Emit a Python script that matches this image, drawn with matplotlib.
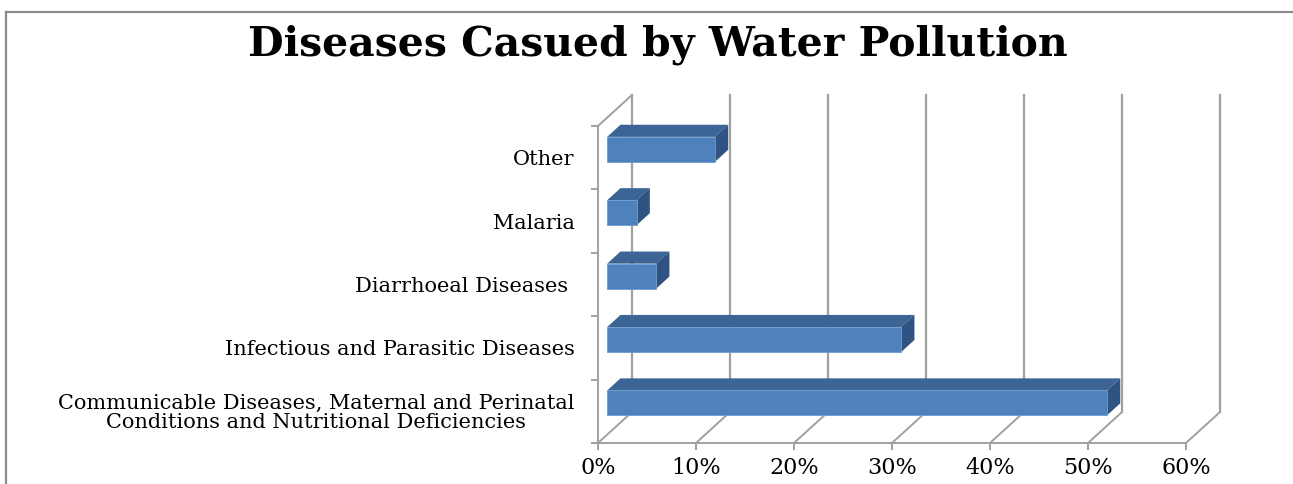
import matplotlib
matplotlib.use("Agg")
import matplotlib.pyplot as plt
from matplotlib.patches import Polygon
from matplotlib.lines import Line2D
from matplotlib.ticker import FuncFormatter

categories = [
    "Communicable Diseases, Maternal and Perinatal\nConditions and Nutritional Deficiencies",
    "Infectious and Parasitic Diseases",
    "Diarrhoeal Diseases ",
    "Malaria",
    "Other",
]
values = [51, 30, 5, 3, 11]  # percent
title = "Diseases Casued by Water Pollution"

W, H = 1293, 484
fig = plt.figure(figsize=(W / 100, H / 100), dpi=100)

# front plane of the 3d box
ax_left, ax_bottom, ax_w, ax_h = 598, 41, 588, 317
ax = fig.add_axes([ax_left / W, ax_bottom / H, ax_w / W, ax_h / H])
xmax = 60
ax.set_xlim(0, xmax)
ax.set_ylim(-0.5, len(categories) - 0.5)

# depth offset (back wall vs front plane) in data units
DX = 34 * xmax / ax_w
DY = 31 * len(categories) / ax_h
d1, d2 = 0.27, 0.66   # bar depth range
bh = 0.394            # bar thickness

grid_c = "#a0a0a0"
front_c, top_c, side_c = "#4f81bd", "#3c6494", "#2f5382"
ylo, yhi = -0.5, len(categories) - 0.5

# back wall gridlines + floor diagonals
for x in range(0, xmax + 1, 10):
    ax.add_line(Line2D([x + DX, x + DX], [ylo + DY, yhi + DY], color=grid_c, lw=1.6, clip_on=False, zorder=1))
    ax.add_line(Line2D([x, x + DX], [ylo, ylo + DY], color=grid_c, lw=1.4, clip_on=False, zorder=1))
# left wall top edge
ax.add_line(Line2D([0, DX], [yhi, yhi + DY], color=grid_c, lw=1.4, clip_on=False, zorder=1))

for i, v in enumerate(values):
    b0, b1 = i - bh / 2, i + bh / 2
    front = [(d1 * DX, b0 + d1 * DY), (v + d1 * DX, b0 + d1 * DY),
             (v + d1 * DX, b1 + d1 * DY), (d1 * DX, b1 + d1 * DY)]
    top = [(d1 * DX, b1 + d1 * DY), (v + d1 * DX, b1 + d1 * DY),
           (v + d2 * DX, b1 + d2 * DY), (d2 * DX, b1 + d2 * DY)]
    side = [(v + d1 * DX, b0 + d1 * DY), (v + d1 * DX, b1 + d1 * DY),
            (v + d2 * DX, b1 + d2 * DY), (v + d2 * DX, b0 + d2 * DY)]
    ax.add_patch(Polygon(top, closed=True, fc=top_c, ec="none", clip_on=False, zorder=3))
    ax.add_patch(Polygon(side, closed=True, fc=side_c, ec="none", clip_on=False, zorder=3))
    ax.add_patch(Polygon(front, closed=True, fc=front_c, ec="#6f9bd0", lw=0.6, clip_on=False, zorder=4))

for s in ("top", "right"):
    ax.spines[s].set_visible(False)
for s in ("left", "bottom"):
    ax.spines[s].set_color(grid_c)
    ax.spines[s].set_linewidth(1.4)

lab_font = dict(family="DejaVu Serif", size=15)
ax.set_xticks(range(0, xmax + 1, 10))
ax.xaxis.set_major_formatter(FuncFormatter(lambda x, p: f"{int(x)}%"))
ax.tick_params(axis="x", length=5, width=1.4, color=grid_c, pad=5, labelsize=16)
for t in ax.get_xticklabels():
    t.set_family("DejaVu Serif")

ax.set_yticks(range(len(categories)))
ax.set_yticklabels(categories, **lab_font, multialignment="center", linespacing=1.0)
ax.set_yticks([k - 0.5 for k in range(len(categories) + 1)], minor=True)
ax.tick_params(axis="y", which="major", length=0, pad=17)
ax.tick_params(axis="y", which="minor", length=5, width=1.4, color=grid_c)

fig.text(658 / W, 1 - 45 / H, title, ha="center", va="center",
         family="DejaVu Serif", weight="bold", size=29.5)

# chart border (left and top edges visible)
fig.add_artist(Line2D([6 / W, 6 / W], [0, 1 - 12 / H], color="#8c8c8c", lw=1.6))
fig.add_artist(Line2D([6 / W, 1], [1 - 12 / H, 1 - 12 / H], color="#8c8c8c", lw=1.6))

fig.savefig("out.png", dpi=100)
